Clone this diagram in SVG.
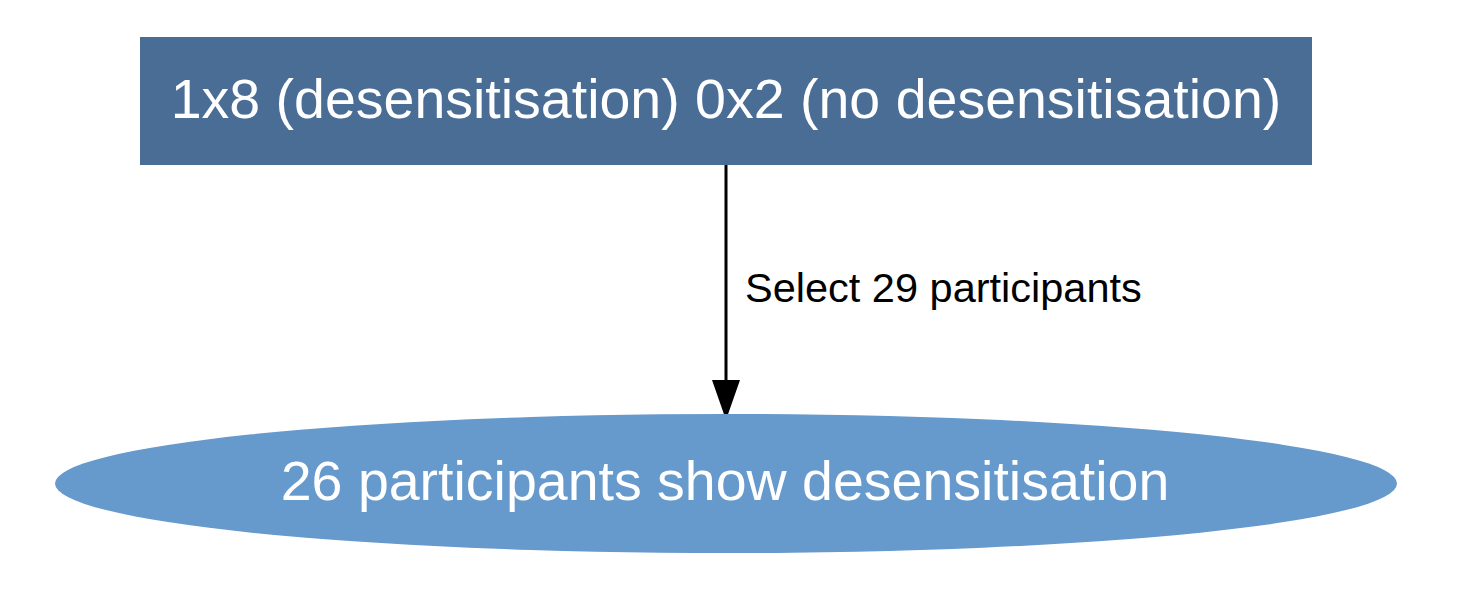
<svg xmlns="http://www.w3.org/2000/svg" width="1458" height="610" viewBox="0 0 1458 610">
  <style>
    .lbl { font-family: "Liberation Sans", Arial, sans-serif; fill: #ffffff; font-size: 55.5px; text-anchor: middle; }
    .edge { stroke: #000000; stroke-width: 3; fill: none; }
    .head { fill: #000000; }
    .elbl { font-family: "Liberation Sans", Arial, sans-serif; fill: #000000; font-size: 41.5px; }
  </style>
  <rect width="1458" height="610" fill="#ffffff"/>
  <g id="connectors">
    <line class="edge" x1="726" y1="165" x2="726" y2="382"/>
    <polygon class="head" points="712,380 740,380 726,420"/>
    <text class="elbl" x="745" y="302">Select 29 participants</text>
  </g>
  <g id="node-top">
    <rect x="140" y="37" width="1172" height="128" fill="#4a6d96"/>
    <text class="lbl" x="726" y="118">1x8 (desensitisation) 0x2 (no desensitisation)</text>
  </g>
  <g id="node-bottom">
    <ellipse cx="726" cy="483.5" rx="671" ry="69.5" fill="#6699cc"/>
    <text class="lbl" x="725" y="500">26 participants show desensitisation</text>
  </g>
</svg>
